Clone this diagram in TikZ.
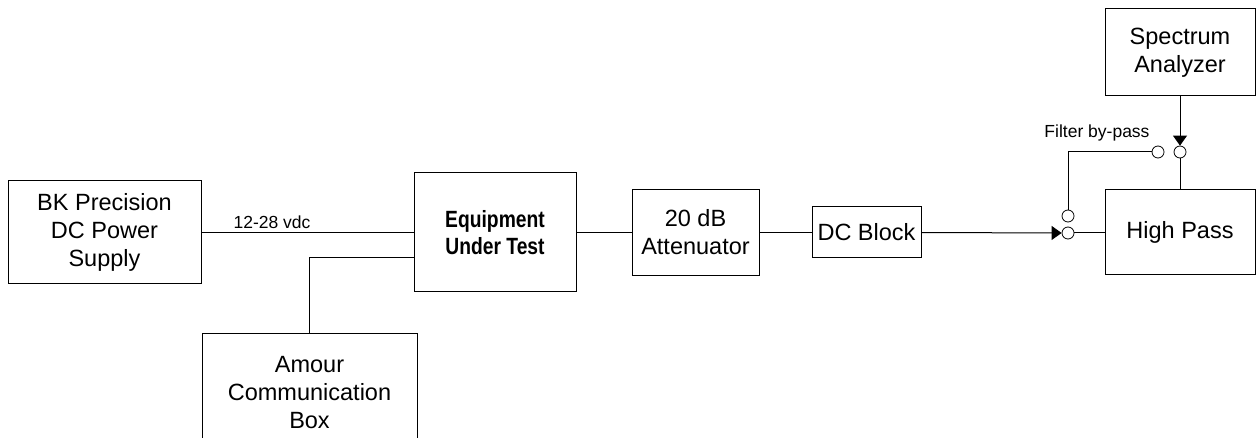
\documentclass[tikz,border=0pt]{standalone}
\usepackage{fontspec}
\setmainfont{Liberation Sans}
\newfontfamily\narrowfont[FakeStretch=0.82]{Liberation Sans}
\usetikzlibrary{arrows.meta}
\begin{document}
\begin{tikzpicture}[x=1pt,y=-1pt,line width=1pt,
  blk/.style={draw,rectangle,inner sep=0pt,align=center,font=\fontsize{23.5}{28}\selectfont},
  port/.style={draw,circle,inner sep=0pt,minimum size=12pt,line width=0.8pt},
  arr/.style={-{Triangle[length=10pt,width=14pt]}},
  lbl/.style={font=\fontsize{17.5}{20}\selectfont,inner sep=0pt}]
\useasboundingbox (0,0) rectangle (1256,438);
\clip (0,0) rectangle (1256,438);
\node[blk,minimum width=193pt,minimum height=103pt] (bk) at (104.5,232.5) {BK Precision\\DC Power\\Supply};
\node[blk,minimum width=162pt,minimum height=119pt,font=\narrowfont\bfseries\fontsize{23.5}{27}\selectfont] (eut) at (495,232.5) {Equipment\\Under Test};
\node[blk,minimum width=127pt,minimum height=86pt] (att) at (695.5,232.5) {20 dB\\Attenuator};
\node[blk,minimum width=109pt,minimum height=51pt] (dcb) at (866.5,232.5) {DC Block};
\node[blk,minimum width=150pt,minimum height=85pt] (hp) at (1180,232.5) {High Pass};
\node[blk,minimum width=150pt,minimum height=87pt] (sa) at (1180,52.5) {Spectrum\\Analyzer};
\node[blk,minimum width=215pt,minimum height=118pt] (am) at (309.5,393) {Amour\\Communication\\Box};
\node[port] (c1) at (1068,233) {};
\node[port] (c2) at (1068,216) {};
\node[port] (c3) at (1158,152) {};
\node[port] (c4) at (1180,152) {};
\coordinate (j) at (414,258);
\draw (bk.east) -- (bk.east -| eut.west);
\node[lbl] (vdc) at (272,222) {12-28 vdc};
\draw (j) -| (am.north);
\draw (eut.east) -- (att.west);
\draw (att.east) -- (dcb.west);
\draw[arr] (dcb.east) -- (c1.west);
\draw (c1.east) -- (c1.east -| hp.west);
\draw (c2.north) |- (c3.west);
\draw[arr] (sa.south) -- (c4.north);
\draw (c4.south) -- (hp.north);
\node[lbl] (fb) at (1097,133) {Filter by-pass};
\end{tikzpicture}
\end{document}
